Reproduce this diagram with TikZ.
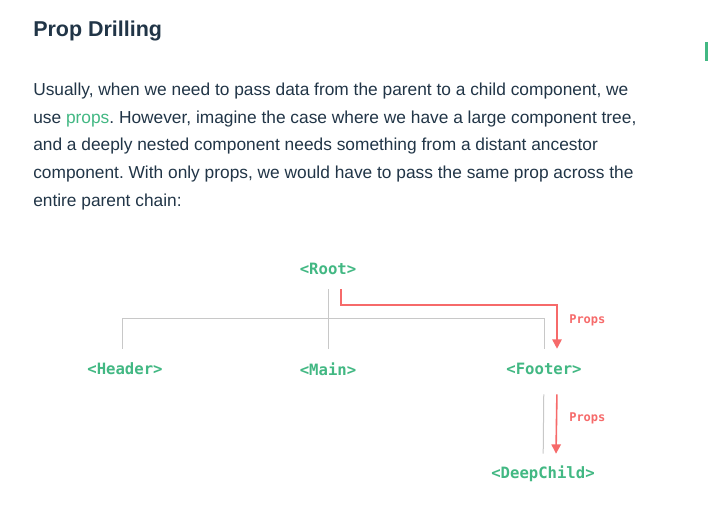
\documentclass[tikz,border=0pt]{standalone}
\usepackage{fontspec}
\setmainfont{Liberation Sans}
\setmonofont{DejaVu Sans Mono}
\usetikzlibrary{calc,arrows.meta}

\definecolor{vuegreen}{HTML}{42B883}
\definecolor{propred}{HTML}{F66A6A}
\definecolor{textdark}{HTML}{213547}
\definecolor{treegray}{HTML}{C8C8C8}

\frenchspacing
\tikzset{
  comp/.style={font=\ttfamily\bfseries\fontsize{11.7}{14}\selectfont, text=vuegreen, minimum height=30pt, inner sep=0pt},
  tree/.style={treegray, line width=0.75pt},
  flow/.style={propred, line width=1.2pt, -{Triangle[length=7pt,width=7pt]}},
  proplabel/.style={font=\ttfamily\bfseries\fontsize{9}{11}\selectfont, text=propred, anchor=west, inner sep=0pt},
  bodyline/.style={anchor=base west, inner sep=0pt, text=textdark, font=\fontsize{13}{15}\selectfont}
}

\begin{document}
\begin{tikzpicture}[x=0.75pt,y=-0.75pt]
        \fill[white] (0,0) rectangle (709,527);
        \useasboundingbox (0,0) rectangle (709,527);
        % heading and paragraph
        \node[anchor=base west, inner sep=0pt, text=textdark, font=\bfseries\fontsize{16.1}{20}\selectfont] (title) at (33,37) {Prop Drilling};
        \node[bodyline] (line1) at (33,96) {Usually, when we need to pass data from the parent to a child component, we};
        \node[bodyline] (line2) at (33,123.5) {use \textcolor{vuegreen}{props}. However, imagine the case where we have a large component tree,};
        \node[bodyline] (line3) at (33,151) {and a deeply nested component needs something from a distant ancestor};
        \node[bodyline] (line4) at (33,178.5) {component. With only props, we would have to pass the same prop across the};
        \node[bodyline] (line5) at (33,206) {entire parent chain:};
        \fill[vuegreen] (704.5,42) rectangle (707.5,61);
        % component tree
        \node[comp] (root) at (328,269) {<Root>};
        \node[comp] (header) at (125,369) {<Header>};
        \node[comp] (main) at (328,369) {<Main>};
        \node[comp] (footer) at (544,369) {<Footer>};
        \node[comp] (deep) at (543,474) {<DeepChild>};
        \coordinate (bus) at (0,318);
        \draw[tree] (root) -- (main);
        \draw[tree] ($(header.north)+(-3,0)$) -- ($(header.north |- bus)+(-3,0)$) -- (footer.north |- bus) -- (footer.north);
        \draw[tree, shorten <=3.75pt] (footer) -- (deep);
        % props passed down
        \draw[flow] ($(root.south)+(13,0)$) -- ++(0,16) -| ($(footer.north)+(13,0)$);
        \node[proplabel] (props1) at (569,320) {Props};
        \draw[flow, shorten <=3.75pt] ($(footer.south)+(13,0)$) -- ($(deep.north)+(13,0)$);
        \node[proplabel] (props2) at (569,418) {Props};
\end{tikzpicture}
\end{document}
